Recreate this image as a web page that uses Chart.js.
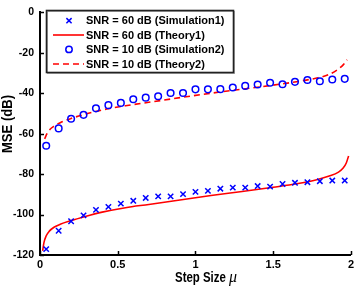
<!DOCTYPE html>
<html>
<head>
<meta charset="utf-8">
<script src="https://cdn.jsdelivr.net/npm/chart.js@4.4.1/dist/chart.umd.min.js"></script>
<style>
  html, body { margin: 0; padding: 0; background: #fff; }
  #wrap { width: 357px; height: 290px; }
</style>
</head>
<body>
<div id="wrap"><canvas id="mse" width="357" height="290"></canvas></div>
<script>
// ── Data ─────────────────────────────────────────────────────
const muSim = [0.04, 0.12, 0.20, 0.28, 0.36, 0.44, 0.52, 0.60, 0.68, 0.76, 0.84, 0.92, 1.00,
               1.08, 1.16, 1.24, 1.32, 1.40, 1.48, 1.56, 1.64, 1.72, 1.80, 1.88, 1.96];
const sim1 = [-117.1, -108, -103.3, -100.4, -97.7, -96.2, -94.6, -93.2, -91.8, -91, -91, -89.9, -88.8,
              -88.3, -87.2, -86.7, -86.7, -85.9, -86.2, -84.9, -84.3, -84, -83.5, -83.2, -83.2];
const sim2 = [-66, -57.4, -52.6, -50.7, -47.5, -45.9, -44.8, -43, -42.2, -41.5, -39.9, -39.9, -38.1,
              -38.1, -38, -37.2, -36.4, -35.7, -34.8, -35.6, -34.4, -33.5, -34.1, -33.2, -32.9];

const muTh1 = [0.017, 0.025, 0.04, 0.06, 0.09, 0.13, 0.2, 0.28, 0.4, 0.55, 0.7, 0.9, 1.1,
               1.3, 1.5, 1.65, 1.78, 1.86, 1.92, 1.95, 1.97, 1.985];
const th1   = [-118, -114, -110.5, -108.2, -106.3, -104.8, -103, -101.2, -98.8, -96.6, -95, -92.8, -90.6,
               -88.6, -86.5, -84.8, -82.8, -81, -79, -77, -74.5, -71];

const muTh2 = [0.03, 0.045, 0.065, 0.09, 0.13, 0.2, 0.28, 0.4, 0.55, 0.7, 0.9, 1.1,
               1.3, 1.5, 1.65, 1.78, 1.86, 1.92, 1.95, 1.975];
const th2   = [-62.6, -60, -57.8, -56.3, -54.6, -52.5, -50.6, -48.3, -46.2, -44.5, -42.2, -40,
               -38, -36, -34.3, -32.5, -30.7, -28, -26, -23.5];

const xTicks = [0, 0.5, 1, 1.5, 2];
const yTicks = [0, -20, -40, -60, -80, -100, -120];

const legendLabels = [
  "SNR = 60 dB (Simulation1)",
  "SNR = 60 dB (Theory1)",
  "SNR = 10 dB (Simulation2)",
  "SNR = 10 dB (Theory2)"
];

const BLUE = "#0000ff";
const RED  = "#ff0000";
const FONT = "'Liberation Sans', Arial, sans-serif";

const pts = (xs, ys) => xs.map((x, i) => ({ x, y: ys[i] }));

// ── Decorations: inward ticks, axis titles, boxed legend ─────
const decor = {
  id: "decor",
  afterDatasetsDraw(chart) {
    const { ctx, chartArea: a, scales } = chart;
    ctx.save();
    ctx.strokeStyle = "#000";
    ctx.lineWidth = 1.5;
    xTicks.forEach(v => {
      const px = Math.round(scales.x.getPixelForValue(v)) + 0.5;
      ctx.beginPath(); ctx.moveTo(px, a.bottom); ctx.lineTo(px, a.bottom - 4); ctx.stroke();
    });
    yTicks.forEach(v => {
      const py = Math.round(scales.y.getPixelForValue(v)) + 0.5;
      ctx.beginPath(); ctx.moveTo(a.left, py); ctx.lineTo(a.left + 4, py); ctx.stroke();
    });
    ctx.restore();
  },
  afterDraw(chart) {
    const ctx = chart.ctx;
    ctx.save();
    ctx.fillStyle = "#000";

    // x title: "Step Size " bold + italic mu
    ctx.textBaseline = "alphabetic";
    ctx.font = "bold 15.5px " + FONT;
    const t1 = "Step Size ";
    const w1 = ctx.measureText(t1).width;
    ctx.font = "italic 16px 'Liberation Serif', serif";
    const w2 = ctx.measureText("\u03bc").width;
    const k = Math.min(1, 60 / (w1 + w2));
    const x0 = 205 - (w1 + w2) * k / 2;
    ctx.font = "bold 15.5px " + FONT;
    ctx.textAlign = "left";
    ctx.fillText(t1, x0, 281.5, w1 * k);
    ctx.font = "italic 16px 'Liberation Serif', serif";
    ctx.fillText("\u03bc", x0 + w1 * k, 281.5, w2);

    // y title
    ctx.save();
    ctx.translate(8, 124);
    ctx.rotate(-Math.PI / 2);
    ctx.font = "bold 15px " + FONT;
    ctx.textAlign = "center";
    ctx.textBaseline = "middle";
    ctx.fillText("MSE (dB)", 0, 0, 58);
    ctx.restore();

    // legend box
    const bx = 46.5, by = 10.5, bw = 187, bh = 62;
    ctx.fillStyle = "#fff";
    ctx.fillRect(bx, by, bw, bh);
    ctx.strokeStyle = "#aaa";
    ctx.lineWidth = 1;
    ctx.strokeRect(bx + 1, by + 1, bw, bh);
    ctx.strokeStyle = "#222";
    ctx.lineWidth = 1.6;
    ctx.strokeRect(bx, by, bw, bh);

    const rows = [20.7, 35, 49.4, 64];
    const mx = 69, l0 = 53, l1 = 84;
    // row 1: cross
    ctx.strokeStyle = BLUE; ctx.lineWidth = 1.5;
    ctx.beginPath();
    ctx.moveTo(mx - 2.6, rows[0] - 2.6); ctx.lineTo(mx + 2.6, rows[0] + 2.6);
    ctx.moveTo(mx - 2.6, rows[0] + 2.6); ctx.lineTo(mx + 2.6, rows[0] - 2.6);
    ctx.stroke();
    // row 2: solid red
    ctx.strokeStyle = RED; ctx.lineWidth = 1.6;
    ctx.beginPath(); ctx.moveTo(l0, rows[1]); ctx.lineTo(l1, rows[1]); ctx.stroke();
    // row 3: circle
    ctx.strokeStyle = BLUE; ctx.lineWidth = 1.5;
    ctx.beginPath(); ctx.arc(mx, rows[2], 3.2, 0, Math.PI * 2); ctx.stroke();
    // row 4: dashed red
    ctx.strokeStyle = RED; ctx.lineWidth = 1.6;
    ctx.setLineDash([6, 4]);
    ctx.beginPath(); ctx.moveTo(l0, rows[3]); ctx.lineTo(l1, rows[3]); ctx.stroke();
    ctx.setLineDash([]);

    ctx.fillStyle = "#000";
    ctx.font = "bold 11px " + FONT;
    ctx.textAlign = "left";
    ctx.textBaseline = "middle";
    legendLabels.forEach((s, i) => ctx.fillText(s, 86, rows[i] + 0.5));
    ctx.restore();
  }
};

// ── Chart ────────────────────────────────────────────────────
new Chart(document.getElementById("mse"), {
  type: "scatter",
  data: {
    datasets: [
      {
        label: legendLabels[0],
        data: pts(muSim, sim1),
        pointStyle: "crossRot",
        pointRadius: 3.8,
        borderColor: BLUE,
        backgroundColor: BLUE,
        borderWidth: 1.5,
        showLine: false
      },
      {
        label: legendLabels[1],
        data: pts(muTh1, th1),
        showLine: true,
        borderColor: RED,
        borderWidth: 1.6,
        pointRadius: 0,
        cubicInterpolationMode: "monotone"
      },
      {
        label: legendLabels[2],
        data: pts(muSim, sim2),
        pointStyle: "circle",
        pointRadius: 3.3,
        borderColor: BLUE,
        backgroundColor: "rgba(0,0,0,0)",
        borderWidth: 1.5,
        showLine: false
      },
      {
        label: legendLabels[3],
        data: pts(muTh2, th2),
        showLine: true,
        borderColor: RED,
        borderWidth: 1.6,
        borderDash: [6, 4],
        pointRadius: 0,
        cubicInterpolationMode: "monotone"
      }
    ]
  },
  options: {
    responsive: false,
    animation: false,
    layout: { padding: { top: 4, right: 3, left: 0, bottom: 0 } },
    plugins: {
      legend: { display: false },
      tooltip: { enabled: false }
    },
    scales: {
      x: {
        type: "linear",
        min: 0, max: 2,
        afterBuildTicks: s => { s.ticks = xTicks.map(v => ({ value: v })); },
        afterFit: s => { s.height = 35; },
        grid: { display: false, drawTicks: false },
        border: { display: true, color: "#000", width: 2 },
        ticks: {
          color: "#000",
          padding: 3,
          maxRotation: 0,
          font: { family: FONT, size: 11, weight: "bold" },
          callback: v => String(v)
        }
      },
      y: {
        type: "linear",
        min: -120, max: 0,
        afterBuildTicks: s => { s.ticks = yTicks.map(v => ({ value: v })); },
        afterFit: s => { s.width = 40; },
        grid: { display: false, drawTicks: false },
        border: { display: true, color: "#000", width: 2 },
        ticks: {
          color: "#000",
          padding: 6,
          font: { family: FONT, size: 10.5, weight: "bold" },
          callback: v => String(v)
        }
      }
    }
  },
  plugins: [decor]
});
</script>
</body>
</html>
